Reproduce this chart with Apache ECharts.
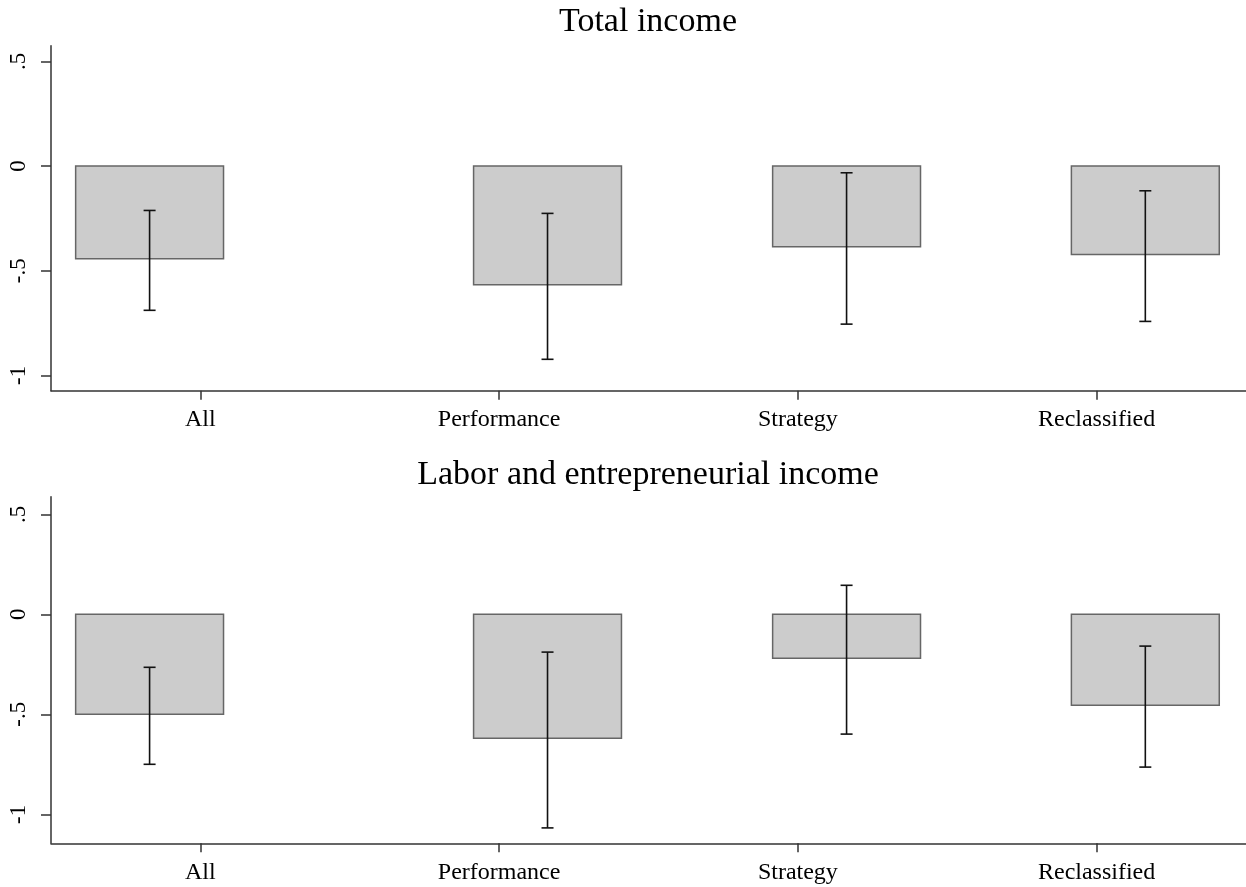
<!DOCTYPE html>
<html>
<head>
<meta charset="utf-8">
<script src="https://cdn.jsdelivr.net/npm/echarts@6/dist/echarts.min.js"></script>
<style>
  html, body { margin: 0; padding: 0; background: #fff; }
  #chart { width: 1246px; height: 887px; }
</style>
</head>
<body>
<div id="chart"></div>
<script>
// Categories and panel titles
const categories = ['All', 'Performance', 'Strategy', 'Reclassified'];
const panelTitles = ['Total income', 'Labor and entrepreneurial income'];

// Point estimates and confidence bounds, total income
const totalEstimate = [-0.443, -0.567, -0.385, -0.422];
const totalLower    = [-0.689, -0.923, -0.755, -0.742];
const totalUpper    = [-0.212, -0.226, -0.032, -0.118];

// Point estimates and confidence bounds, labor and entrepreneurial income
const laborEstimate = [-0.500, -0.620, -0.220, -0.455];
const laborLower    = [-0.750, -1.068, -0.599, -0.764];
const laborUpper    = [-0.265, -0.189,  0.145, -0.159];

// Y tick values and their labels
const yTickValues = [-1, -0.5, 0, 0.5];
const yTickLabels = ['-1', '-.5', '0', '.5'];

// Layout: bar centre shift from each category tick, bar width (axis units)
const barShift = [-0.17, 0.162, 0.163, 0.163];
const barWidth = 0.495;

const FONT = '"Liberation Serif", "DejaVu Serif", serif';
const AXIS_COLOR = '#333';

const panels = [
  { top: 45.7, height: 345, yMin: -1.073, yMax: 0.575, est: totalEstimate, lo: totalLower, hi: totalUpper },
  { top: 496.7, height: 346.6, yMin: -1.145, yMax: 0.588, est: laborEstimate, lo: laborLower, hi: laborUpper }
];

const titleStyle = { fontFamily: FONT, fontSize: 34, fontWeight: 'normal', color: '#000' };

const option = {
  backgroundColor: '#fff',
  animation: false,
  title: [
    { text: panelTitles[0], left: 648, top: 5, padding: 0, textAlign: 'center', textStyle: titleStyle },
    { text: panelTitles[1], left: 648, top: 458, padding: 0, textAlign: 'center', textStyle: titleStyle }
  ],
  grid: panels.map(p => ({ left: 51, top: p.top, width: 1195, height: p.height })),
  xAxis: panels.map((p, i) => ({
    type: 'value', gridIndex: i, min: 0.5, max: 4.5,
    axisLine: { show: true, onZero: false, lineStyle: { color: AXIS_COLOR, width: 1.5 } },
    axisTick: { show: true, length: 9, customValues: [1, 2, 3, 4], lineStyle: { color: AXIS_COLOR, width: 1.5 } },
    axisLabel: {
      customValues: [1, 2, 3, 4],
      formatter: v => categories[Math.round(v) - 1],
      fontFamily: FONT, fontSize: 24, color: '#000', margin: 17
    },
    splitLine: { show: false }
  })),
  yAxis: panels.map((p, i) => ({
    type: 'value', gridIndex: i, min: p.yMin, max: p.yMax,
    axisLine: { show: true, onZero: false, lineStyle: { color: AXIS_COLOR, width: 1.5 } },
    axisTick: { show: true, length: 10, customValues: yTickValues, lineStyle: { color: AXIS_COLOR, width: 1.5 } },
    axisLabel: {
      customValues: yTickValues,
      formatter: v => yTickLabels[yTickValues.findIndex(t => Math.abs(t - v) < 1e-6)],
      rotate: 90,
      fontFamily: FONT, fontSize: 23, color: '#000', margin: 21
    },
    splitLine: { show: false }
  })),
  series: []
};

panels.forEach((p, i) => {
  const rows = categories.map((c, k) => [k + 1 + barShift[k], p.est[k], p.lo[k], p.hi[k]]);
  // Bars from zero to the estimate
  option.series.push({
    type: 'custom', xAxisIndex: i, yAxisIndex: i, data: rows,
    encode: { x: 0, y: 1 },
    renderItem: (params, api) => {
      const x = api.value(0), v = api.value(1);
      const a = api.coord([x - barWidth / 2, 0]);
      const b = api.coord([x + barWidth / 2, v]);
      return {
        type: 'rect',
        shape: { x: a[0], y: Math.min(a[1], b[1]), width: b[0] - a[0], height: Math.abs(b[1] - a[1]) },
        style: { fill: '#cccccc', stroke: '#666666', lineWidth: 1.5 }
      };
    }
  });
  // Confidence intervals with caps
  option.series.push({
    type: 'custom', xAxisIndex: i, yAxisIndex: i, data: rows,
    encode: { x: 0, y: [2, 3] }, z: 3,
    renderItem: (params, api) => {
      const x = api.value(0);
      const lo = api.coord([x, api.value(2)]);
      const hi = api.coord([x, api.value(3)]);
      const cap = 6;
      const st = { stroke: '#111', lineWidth: 1.6 };
      return {
        type: 'group',
        children: [
          { type: 'line', shape: { x1: lo[0], y1: lo[1], x2: hi[0], y2: hi[1] }, style: st },
          { type: 'line', shape: { x1: lo[0] - cap, y1: lo[1], x2: lo[0] + cap, y2: lo[1] }, style: st },
          { type: 'line', shape: { x1: hi[0] - cap, y1: hi[1], x2: hi[0] + cap, y2: hi[1] }, style: st }
        ]
      };
    }
  });
});

const chart = echarts.init(document.getElementById('chart'), null, { renderer: 'canvas' });
chart.setOption(option);
</script>
</body>
</html>
